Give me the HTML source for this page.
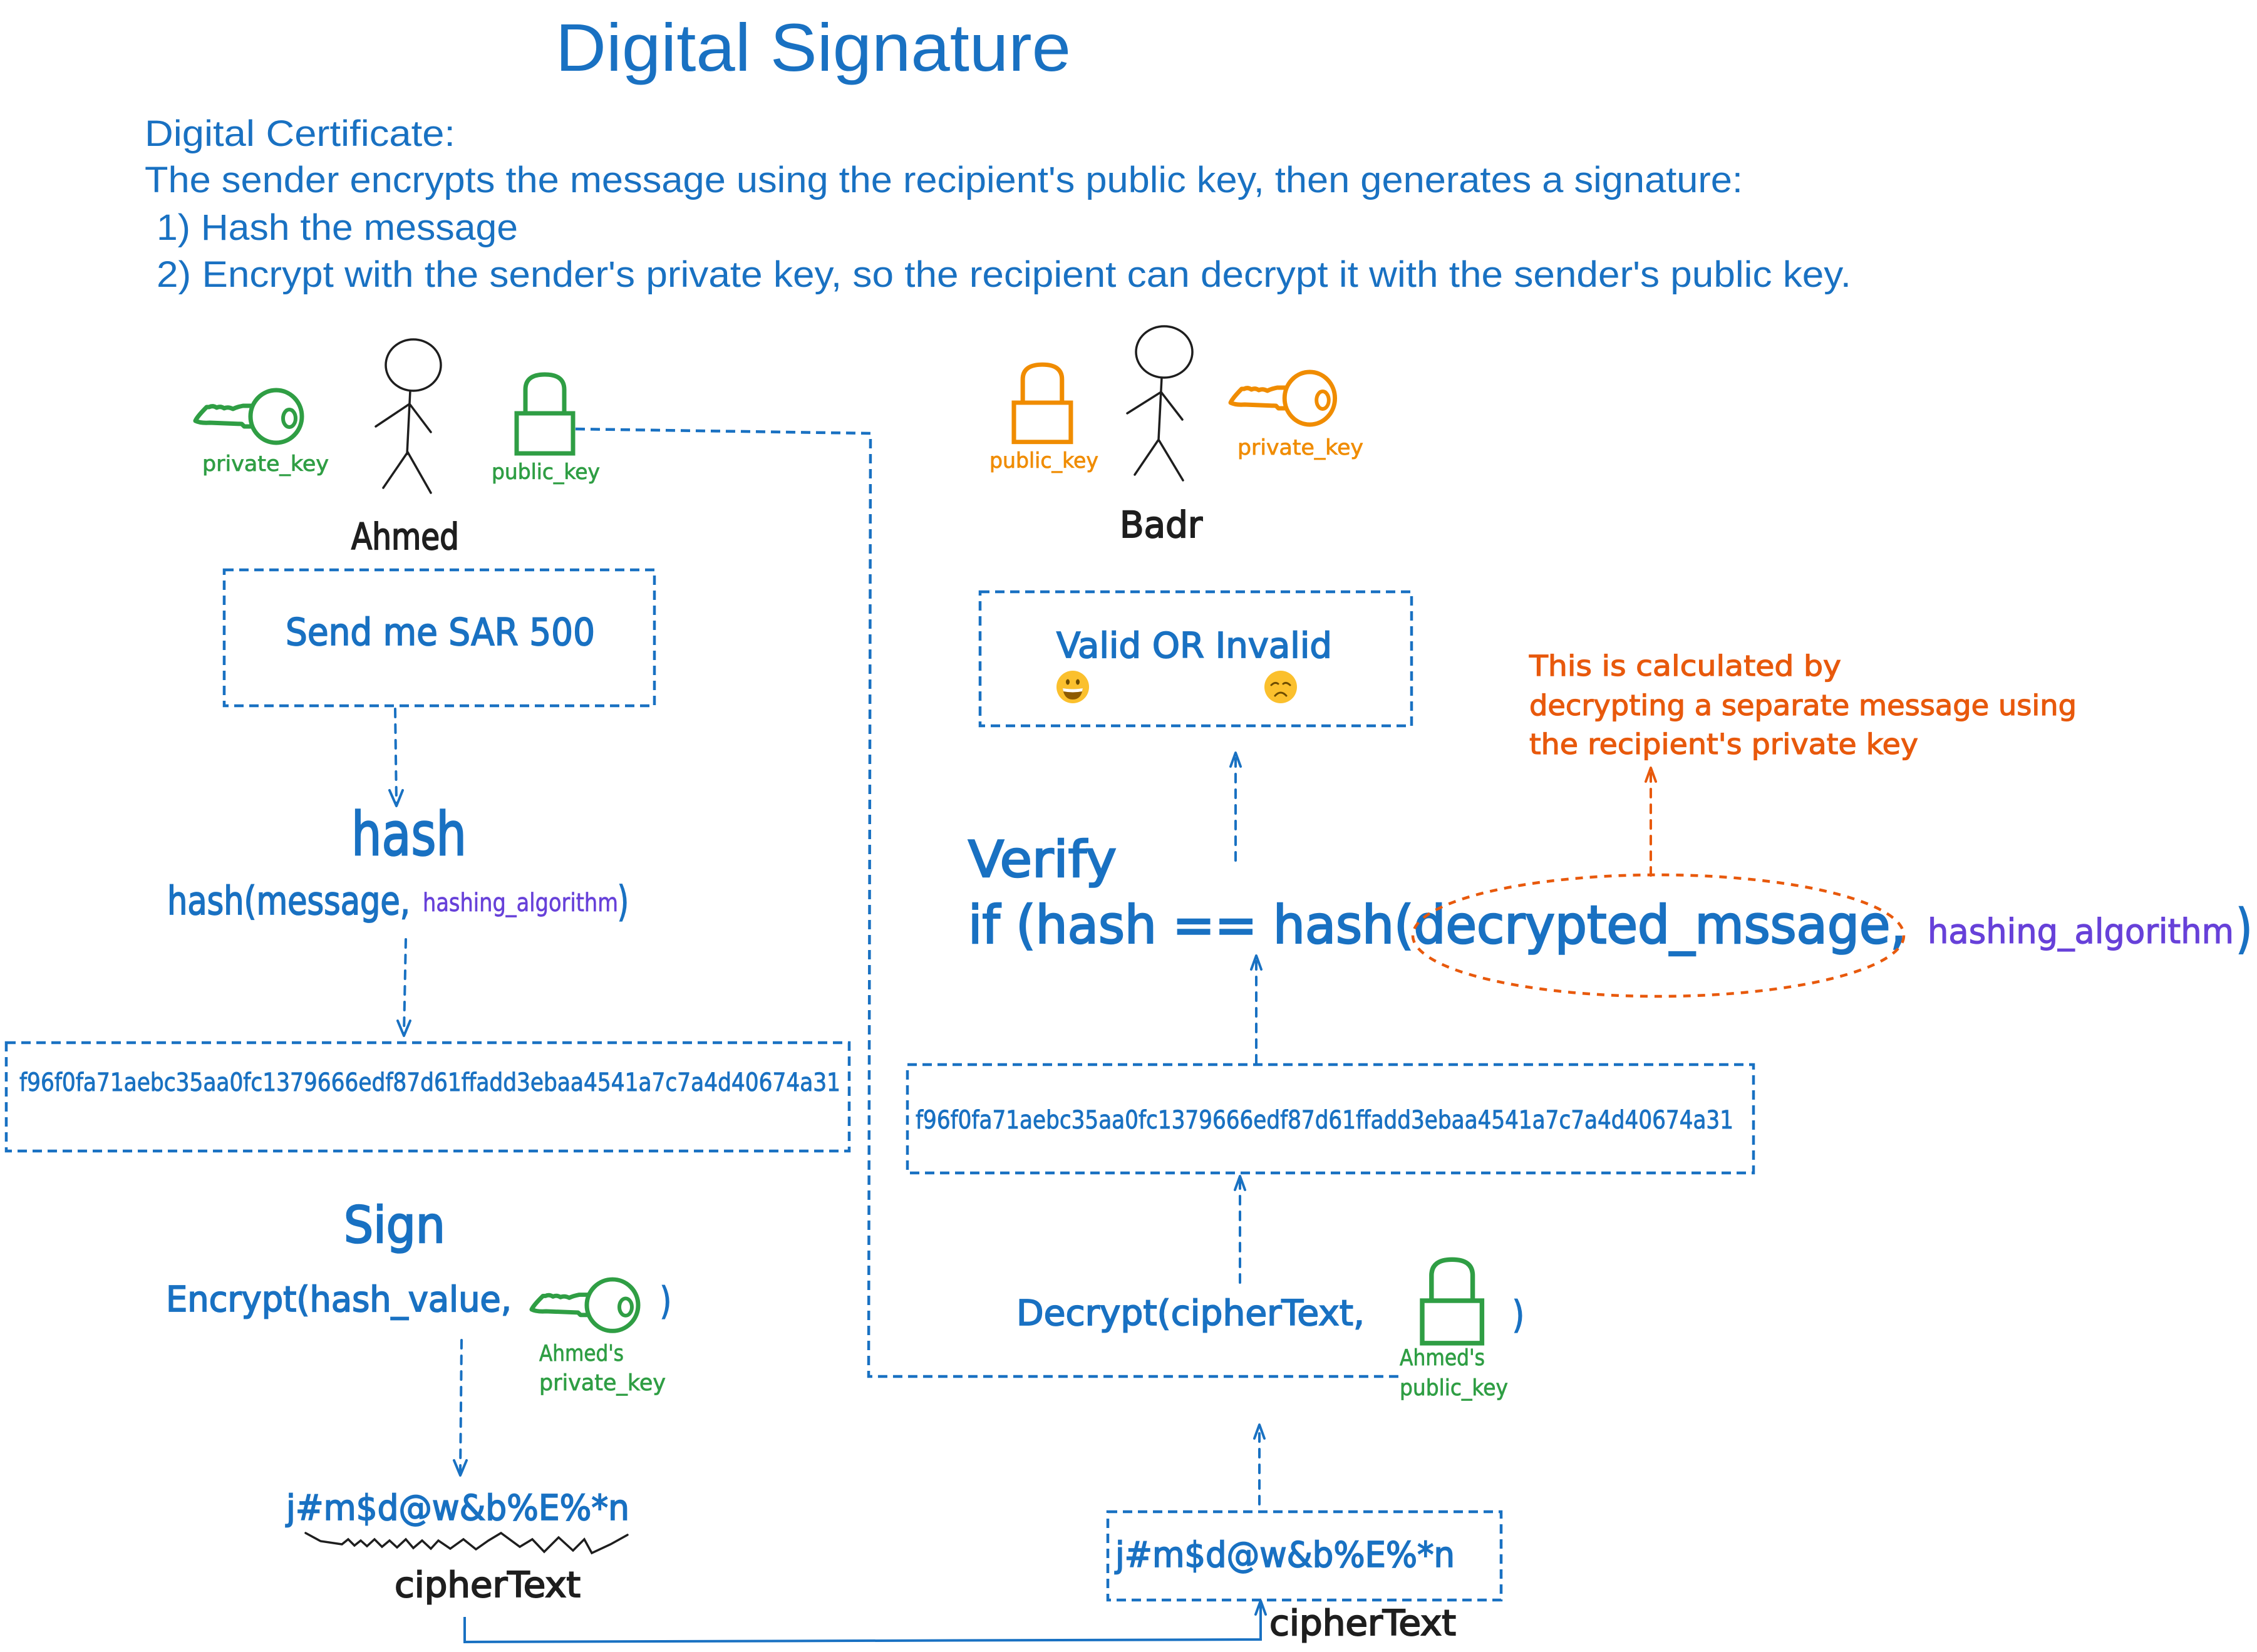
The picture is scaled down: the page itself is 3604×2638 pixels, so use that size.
<!DOCTYPE html>
<html><head><meta charset="utf-8"><style>
html,body{margin:0;padding:0;background:#fff}
svg{display:block}
.bx{fill:none;stroke:#1971c2;stroke-width:4.5;stroke-dasharray:15 9}
.ar{fill:none;stroke:#1971c2;stroke-width:4;stroke-dasharray:13 12;stroke-linecap:round}
.hd{fill:none;stroke:#1971c2;stroke-width:4;stroke-linecap:round;stroke-linejoin:round}
.t{font-family:"Liberation Sans",sans-serif}
.h{font-family:"DejaVu Sans","Liberation Sans",sans-serif}
.st{fill:none;stroke:#1e1e1e;stroke-width:3.5;stroke-linecap:round}
.bB{stroke:#1971c2;stroke-width:2.6}
.bM{stroke:#1971c2;stroke-width:1.8}
.bS{stroke:#1971c2;stroke-width:0.9}
.kB{stroke:#1e1e1e;stroke-width:2}
.gS{stroke:#2f9e44;stroke-width:0.8}
.oS{stroke:#f08c00;stroke-width:0.8}
.rS{stroke:#e8590c;stroke-width:1.2}
.pS{stroke:#6741d9;stroke-width:0.7}
.pM{stroke:#6741d9;stroke-width:1.2}
</style></head><body>
<svg width="3604" height="2638" viewBox="0 0 3604 2638" xmlns="http://www.w3.org/2000/svg">
<rect width="3604" height="2638" fill="#fff"/>
<defs>
<g id="key">
<ellipse cx="129" cy="42" rx="41" ry="42" fill="none" stroke-width="7"/>
<ellipse cx="150" cy="45" rx="10" ry="14" fill="none" stroke-width="6"/>
<path d="M90 25 L76 25 Q66 27 60 30 Q52 26 46 29 Q40 25 34 28 Q28 24 22 27 L18 27 Q3 42 0 49 Q8 53 23 52 L74 54 L78 58 L90 58" fill="none" stroke-width="7" stroke-linejoin="round" stroke-linecap="round"/>
</g>
<g id="lock">
<path d="M14 0 L14 -38 Q14 -62 45 -62 Q76 -62 76 -38 L76 0" fill="none" stroke-width="7"/>
<rect x="0" y="0" width="90" height="64" fill="none" stroke-width="7"/>
</g>
</defs>

<!-- Title and header text -->
<text class="t" x="887" y="113" font-size="108" fill="#1971c2" textLength="823" lengthAdjust="spacingAndGlyphs">Digital Signature</text>
<g class="t" font-size="58" fill="#1971c2">
<text x="231" y="233" textLength="496" lengthAdjust="spacingAndGlyphs">Digital Certificate:</text>
<text x="231" y="307" textLength="2552" lengthAdjust="spacingAndGlyphs">The sender encrypts the message using the recipient's public key, then generates a signature:</text>
<text x="250" y="383" textLength="577" lengthAdjust="spacingAndGlyphs">1) Hash the message</text>
<text x="250" y="458" textLength="2706" lengthAdjust="spacingAndGlyphs">2) Encrypt with the sender's private key, so the recipient can decrypt it with the sender's public key.</text>
</g>

<!-- Ahmed -->
<use href="#key" transform="translate(312,623)" stroke="#2f9e44"/>
<text class="h gS" x="323" y="752" font-size="34" fill="#2f9e44" textLength="202" lengthAdjust="spacingAndGlyphs">private_key</text>
<ellipse cx="660" cy="583" rx="44" ry="41" class="st"/>
<path class="st" d="M655 624 L650 725 M654 645 L600 681 M654 645 L688 690 M651 722 L612 779 M651 722 L688 787"/>
<text class="h kB" x="561" y="877" font-size="58" fill="#1e1e1e" textLength="172" lengthAdjust="spacingAndGlyphs">Ahmed</text>
<use href="#lock" transform="translate(825,660)" stroke="#2f9e44"/>
<text class="h gS" x="785" y="765" font-size="34" fill="#2f9e44" textLength="173" lengthAdjust="spacingAndGlyphs">public_key</text>

<!-- long connector from Ahmed public key -->
<path class="bx" d="M919 685 L1390 692 L1387 2198 L2238 2198"/>

<!-- message box -->
<rect class="bx" x="358" y="910" width="687" height="217"/>
<text class="h bM" x="456" y="1030" font-size="60" fill="#1971c2" textLength="494" lengthAdjust="spacingAndGlyphs">Send me SAR 500</text>

<path class="ar" d="M631 1132 L633 1283"/>
<path class="hd" d="M622 1262 L633 1287 L643 1262"/>

<text class="h bB" x="561" y="1365" font-size="95" fill="#1971c2" textLength="184" lengthAdjust="spacingAndGlyphs">hash</text>
<text class="h bM" x="267" y="1460" font-size="62" fill="#1971c2" textLength="388" lengthAdjust="spacingAndGlyphs">hash(message,</text>
<text class="h pS" x="675" y="1455" font-size="40" fill="#6741d9" textLength="312" lengthAdjust="spacingAndGlyphs">hashing_algorithm</text>
<text class="h bM" x="986" y="1462" font-size="66" fill="#1971c2" textLength="18" lengthAdjust="spacingAndGlyphs">)</text>

<path class="ar" d="M648 1500 L645 1650"/>
<path class="hd" d="M635 1630 L645 1654 L655 1630"/>

<rect class="bx" x="10" y="1665" width="1346" height="173"/>
<text class="h bS" x="31" y="1742" font-size="40" fill="#1971c2" textLength="1311" lengthAdjust="spacingAndGlyphs">f96f0fa71aebc35aa0fc1379666edf87d61ffadd3ebaa4541a7c7a4d40674a31</text>

<!-- Sign -->
<text class="h bB" x="549" y="1984" font-size="80" fill="#1971c2" textLength="162" lengthAdjust="spacingAndGlyphs">Sign</text>
<text class="h bM" x="265" y="2094" font-size="56" fill="#1971c2" textLength="552" lengthAdjust="spacingAndGlyphs">Encrypt(hash_value,</text>
<use href="#key" transform="translate(849,2043) scale(1,0.98)" stroke="#2f9e44"/>
<text class="h bM" x="1054" y="2098" font-size="60" fill="#1971c2" textLength="18" lengthAdjust="spacingAndGlyphs">)</text>
<text class="h gS" x="861" y="2173" font-size="36" fill="#2f9e44" textLength="135" lengthAdjust="spacingAndGlyphs">Ahmed's</text>
<text class="h gS" x="861" y="2220" font-size="36" fill="#2f9e44" textLength="202" lengthAdjust="spacingAndGlyphs">private_key</text>

<path class="ar" d="M737 2140 L735 2352"/>
<path class="hd" d="M725 2332 L735 2356 L745 2332"/>

<text class="h bM" x="457" y="2427" font-size="56" fill="#1971c2" textLength="548" lengthAdjust="spacingAndGlyphs">j#m$d@w&amp;b%E%*n</text>
<path class="st" stroke-width="4" d="M488 2448 L512 2461 L546 2466 L556 2458 L566 2468 L576 2460 L586 2469 L598 2458 L610 2470 L622 2460 L634 2471 L648 2458 L660 2472 L674 2460 L688 2473 L700 2460 L719 2473 L740 2458 L760 2474 L780 2460 L800 2448 L830 2470 L850 2458 L869 2478 L892 2455 L915 2476 L933 2458 L945 2480 L975 2466 L1002 2451"/>
<text class="h kB" x="630" y="2550" font-size="56" fill="#1e1e1e" textLength="297" lengthAdjust="spacingAndGlyphs">cipherText</text>

<path fill="none" stroke="#1971c2" stroke-width="4" d="M742 2582 L742 2622 L2013 2618 L2013 2558"/>
<path class="hd" d="M2005 2578 L2013 2556 L2021 2578"/>

<!-- Badr -->
<use href="#lock" transform="translate(1619,643) scale(1.01,0.98)" stroke="#f08c00"/>
<text class="h oS" x="1580" y="747" font-size="34" fill="#f08c00" textLength="174" lengthAdjust="spacingAndGlyphs">public_key</text>
<ellipse cx="1859" cy="562" rx="45" ry="41" class="st"/>
<path class="st" d="M1855 603 L1850 702 M1854 626 L1800 660 M1854 626 L1888 670 M1850 702 L1812 758 M1850 702 L1889 767"/>
<text class="h kB" x="1788" y="858" font-size="58" fill="#1e1e1e" textLength="132" lengthAdjust="spacingAndGlyphs">Badr</text>
<use href="#key" transform="translate(1965,594) scale(0.98,1)" stroke="#f08c00"/>
<text class="h oS" x="1976" y="726" font-size="34" fill="#f08c00" textLength="201" lengthAdjust="spacingAndGlyphs">private_key</text>

<rect class="bx" x="1565" y="945" width="689" height="214"/>
<text class="h bM" x="1687" y="1050" font-size="56" fill="#1971c2" textLength="440" lengthAdjust="spacingAndGlyphs">Valid OR Invalid</text>
<!-- grin emoji -->
<circle cx="1713" cy="1097" r="26" fill="#fbc02d"/>
<ellipse cx="1705" cy="1089" rx="3" ry="4.5" fill="#6d4c00"/>
<ellipse cx="1721" cy="1089" rx="3" ry="4.5" fill="#6d4c00"/>
<path d="M1697 1099 Q1713 1102 1729 1099 Q1727 1117 1713 1117 Q1699 1117 1697 1099 Z" fill="#8d5a00"/>
<path d="M1697 1099 Q1713 1102 1729 1099 L1728 1104 Q1713 1107 1698 1104 Z" fill="#fff"/>
<!-- sad emoji -->
<circle cx="2045" cy="1097" r="26" fill="#fbc02d"/>
<path d="M2030 1094 Q2036 1088 2041 1092 M2049 1092 Q2054 1088 2060 1094" fill="none" stroke="#6d4c00" stroke-width="3" stroke-linecap="round"/>
<path d="M2036 1111 Q2045 1101 2054 1111" fill="none" stroke="#6d4c00" stroke-width="3" stroke-linecap="round"/>

<path class="ar" d="M1973 1374 L1973 1208"/>
<path class="hd" d="M1965 1224 L1973 1202 L1981 1224"/>

<text class="h bB" x="1546" y="1400" font-size="80" fill="#1971c2" textLength="237" lengthAdjust="spacingAndGlyphs">Verify</text>
<text class="h bB" x="1546" y="1506" font-size="84" fill="#1971c2" textLength="1498" lengthAdjust="spacingAndGlyphs">if (hash == hash(decrypted_mssage,</text>
<text class="h pM" x="3078" y="1506" font-size="54" fill="#6741d9" textLength="489" lengthAdjust="spacingAndGlyphs">hashing_algorithm</text>
<text class="h bB" x="3571" y="1512" font-size="84" fill="#1971c2" textLength="25" lengthAdjust="spacingAndGlyphs">)</text>

<ellipse cx="2648" cy="1494" rx="392" ry="97" fill="none" stroke="#e8590c" stroke-width="4.5" stroke-dasharray="12 11"/>
<path fill="none" stroke="#e8590c" stroke-width="4" stroke-dasharray="13 12" stroke-linecap="round" d="M2636 1398 L2636 1232"/>
<path fill="none" stroke="#e8590c" stroke-width="4" stroke-linecap="round" stroke-linejoin="round" d="M2628 1248 L2636 1226 L2644 1248"/>
<g class="h rS" font-size="45" fill="#e8590c">
<text x="2442" y="1079" textLength="498" lengthAdjust="spacingAndGlyphs">This is calculated by</text>
<text x="2442" y="1142" textLength="874" lengthAdjust="spacingAndGlyphs">decrypting a separate message using</text>
<text x="2442" y="1204" textLength="621" lengthAdjust="spacingAndGlyphs">the recipient's private key</text>
</g>

<path class="ar" d="M2006 1698 L2006 1532"/>
<path class="hd" d="M1998 1548 L2006 1526 L2014 1548"/>

<rect class="bx" x="1449" y="1700" width="1351" height="173"/>
<text class="h bS" x="1462" y="1802" font-size="40" fill="#1971c2" textLength="1306" lengthAdjust="spacingAndGlyphs">f96f0fa71aebc35aa0fc1379666edf87d61ffadd3ebaa4541a7c7a4d40674a31</text>

<path class="ar" d="M1980 2048 L1980 1884"/>
<path class="hd" d="M1972 1900 L1980 1878 L1988 1900"/>

<text class="h bM" x="1623" y="2116" font-size="56" fill="#1971c2" textLength="556" lengthAdjust="spacingAndGlyphs">Decrypt(cipherText,</text>
<use href="#lock" transform="translate(2271,2077) scale(1.06,1.06)" stroke="#2f9e44"/>
<text class="h bM" x="2415" y="2120" font-size="60" fill="#1971c2" textLength="19" lengthAdjust="spacingAndGlyphs">)</text>
<text class="h gS" x="2235" y="2180" font-size="36" fill="#2f9e44" textLength="136" lengthAdjust="spacingAndGlyphs">Ahmed's</text>
<text class="h gS" x="2235" y="2228" font-size="36" fill="#2f9e44" textLength="173" lengthAdjust="spacingAndGlyphs">public_key</text>

<path class="ar" d="M2011 2402 L2011 2281"/>
<path class="hd" d="M2003 2297 L2011 2275 L2019 2297"/>

<rect class="bx" x="1769" y="2414" width="628" height="141"/>
<text class="h bM" x="1781" y="2502" font-size="56" fill="#1971c2" textLength="542" lengthAdjust="spacingAndGlyphs">j#m$d@w&amp;b%E%*n</text>
<text class="h kB" x="2027" y="2611" font-size="56" fill="#1e1e1e" textLength="298" lengthAdjust="spacingAndGlyphs">cipherText</text>
</svg>
</body></html>
